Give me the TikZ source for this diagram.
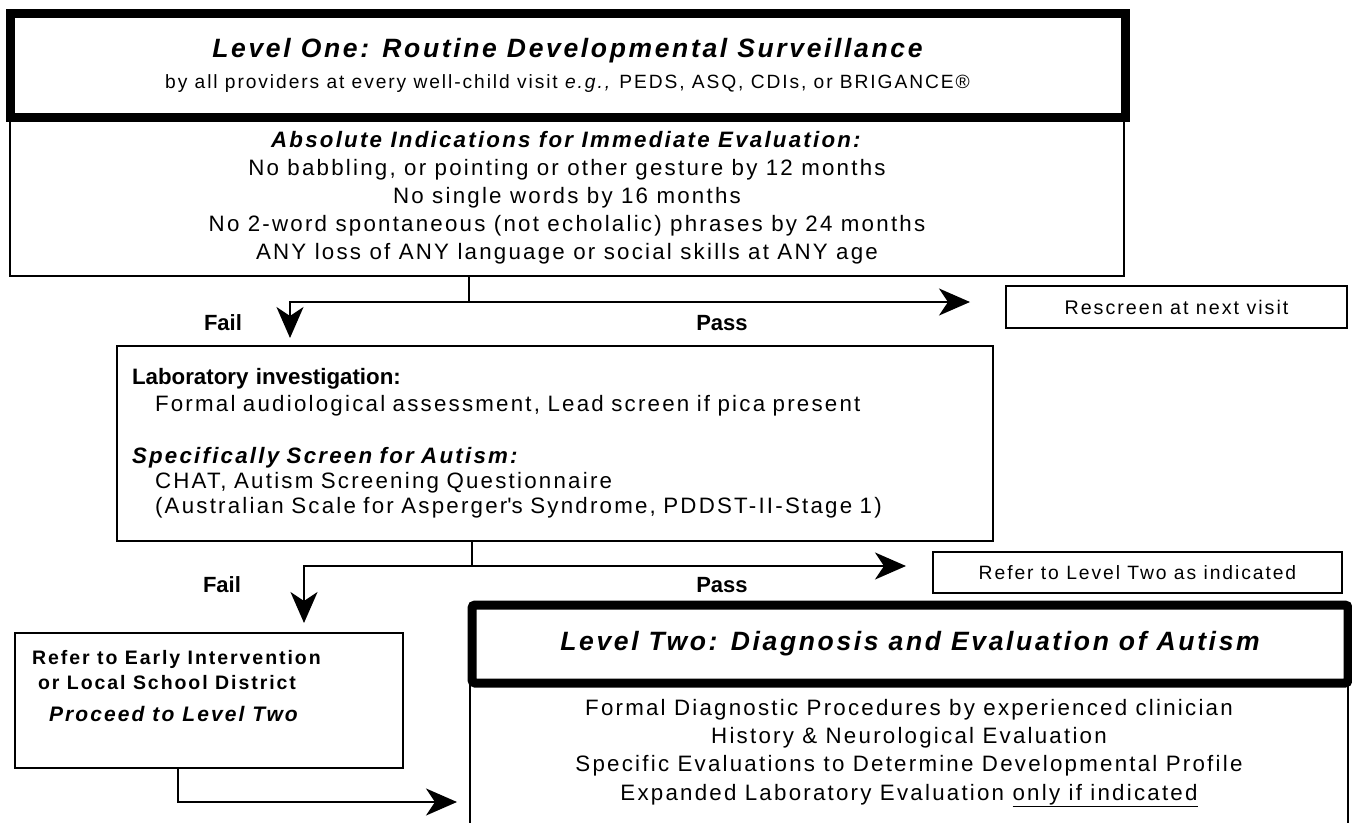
\documentclass[tikz,border=0pt]{standalone}
\usepackage{fontspec}
\setmainfont{Liberation Sans}[LetterSpace=10]
\newfontfamily\tightsans{Liberation Sans}
\usetikzlibrary{arrows.meta}
\usetikzlibrary{positioning}

\begin{document}
\begin{tikzpicture}[x=1pt, y=-1pt,
                    box/.style={draw, line width=2.2pt, inner sep=0pt},
                    levelbox/.style={draw, line width=9pt, inner sep=0pt, fill=white},
                    flow/.style={line width=2.2pt, -{Stealth[length=31pt, width=27pt, inset=9pt]}},
                    link/.style={line width=2.2pt},
                    branch/.style={font=\tightsans\fontsize{22}{26}\selectfont\bfseries}]
 \useasboundingbox (0,0) rectangle (1352,822);
 \node[box, minimum width=1114pt, minimum height=160pt] (indic) at (567,196) {};
 \node[align=center, inner sep=0pt, font=\fontsize{22.3}{28}\selectfont,
       below=16pt of indic.north] (indictext)
   {\textbf{\textit{Absolute Indications for Immediate Evaluation:}}\\
    No babbling, or pointing or other gesture by 12 months\\
    No single words by 16 months\\
    No 2-word spontaneous (not echolalic) phrases by 24 months\\
    ANY loss of ANY language or social skills at ANY age};
 \node[levelbox, minimum width=1115pt, minimum height=104pt, align=center,
       font=\fontsize{19.2}{31}\selectfont] (levelone) at (567.5,65)
   {{\fontsize{26.5}{31}\selectfont\bfseries\itshape Level One: Routine Developmental Surveillance}\\
    by all providers at every well-child visit \textit{e.g.,} PEDS, ASQ, CDIs, or BRIGANCE\textregistered};
 \node[box, minimum width=341pt, minimum height=42pt,
       font=\fontsize{19.7}{24}\selectfont] (rescreen) at (1176.5,307)
   {Rescreen at next visit};
 \node[box, minimum width=876pt, minimum height=195pt, text width=846pt, align=left,
       inner xsep=15pt, font=\fontsize{22.3}{25}\selectfont] (lab) at (555,443.5)
   {{\tightsans\bfseries Laboratory investigation:}\\[2pt]
    \hspace*{23pt}Formal audiological assessment, Lead screen if pica present\\[27pt]
    \textbf{\textit{Specifically Screen for Autism:}}\\
    \hspace*{23pt}CHAT, Autism Screening Questionnaire\\
    \hspace*{23pt}(Australian Scale for Asperger\textquotesingle s Syndrome, PDDST-II-Stage 1)};
 \node[box, minimum width=409pt, minimum height=41pt,
       font=\fontsize{19.3}{24}\selectfont] (refer) at (1137.5,572.5)
   {Refer to Level Two as indicated};
 \node[box, minimum width=388pt, minimum height=135pt] (early) at (209,700.5) {};
 \node[anchor=north west, align=left, inner sep=0pt,
       font=\fontsize{19.5}{25}\selectfont\bfseries,
       below right=18pt and 18pt of early.north west] (earlytext)
   {Refer to Early Intervention\\
    \hspace*{6pt}or Local School District\\[7pt]
    \hspace*{17pt}{\fontsize{21}{25}\selectfont\itshape Proceed to Level Two}};
 \node[box, minimum width=878pt, minimum height=160pt] (evalbox) at (909,763) {};
 \node[levelbox, rounded corners=3pt, minimum width=876pt, minimum height=78pt,
       font=\fontsize{26.5}{32}\selectfont\bfseries\itshape] (leveltwo) at (910,644)
   {Level Two: Diagnosis and Evaluation of Autism};
 \node[align=center, inner sep=0pt, font=\fontsize{22.3}{28.3}\selectfont,
       below=17pt of evalbox.north] (evaltext)
   {Formal Diagnostic Procedures by experienced clinician\\
    History \& Neurological Evaluation\\
    Specific Evaluations to Determine Developmental Profile\\
    Expanded Laboratory Evaluation \underline{only if indicated}};

 \node[branch] (fail1) at (223,323) {Fail};
 \node[branch] (pass1) at (722,323) {Pass};
 \node[branch] (fail2) at (222,585) {Fail};
 \node[branch] (pass2) at (722,585) {Pass};

 \coordinate (fork1) at (469,302);
 \coordinate (failtip1) at (290,338);
 \coordinate (passtip1) at (970,302);
 \coordinate (fork2) at (472,566);
 \coordinate (failtip2) at (304,623);
 \coordinate (passtip2) at (906,566);
 \coordinate (bend3) at (178,802);
 \coordinate (evaltip) at (457,802);

 \draw[link] (indic.south -| fork1) -- (fork1);
 \draw[flow] (fork1) -| (failtip1);
 \draw[flow] (fork1) -- (passtip1);
 \draw[link] (lab.south -| fork2) -- (fork2);
 \draw[flow] (fork2) -| (failtip2);
 \draw[flow] (fork2) -- (passtip2);
 \draw[flow] (early.south -| bend3) |- (evaltip);
\end{tikzpicture}
\end{document}
